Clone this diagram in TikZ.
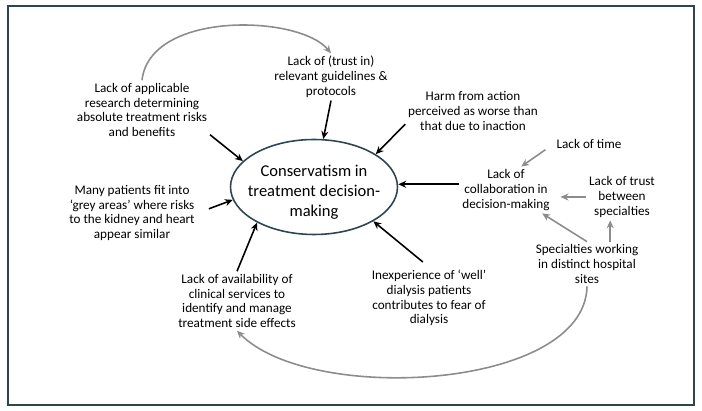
\documentclass[tikz,border=0pt]{standalone}
\usepackage{fontspec}
\setmainfont{Carlito}
\usetikzlibrary{shapes.geometric, arrows, arrows.meta, positioning}
\definecolor{frameteal}{RGB}{44,70,80}
\definecolor{linkgrey}{RGB}{140,140,140}

\begin{document}
\begin{tikzpicture}[x=0.02cm, y=-0.02cm,
    factor/.style={align=center, font=\fontsize{7.5}{8.4}\selectfont, inner sep=1.5pt},
    cause/.style={-{Stealth[length=4.5pt, width=4pt]}, line width=0.9pt, black},
    link/.style={-{Stealth[length=4.5pt, width=4pt]}, line width=0.9pt, linkgrey}]
    \useasboundingbox (0,0) rectangle (702,411);
    \draw[frameteal, line width=1.6pt] (8,6) rectangle (694,405);

    % Central theme
    \node[ellipse, draw=frameteal, line width=0.9pt, minimum width=3.34cm, minimum height=1.9cm] (centre) at (314,187) {};
    \node[align=center, font=\fontsize{9.4}{11.4}\selectfont] (theme) at (314,192) {Conservatism in\\treatment decision-\\making};

    % Factors
    \node[factor] (research) at (142,110) {Lack of applicable\\research determining\\absolute treatment risks\\and benefits};
    \node[factor] (guidelines) at (331,77) {Lack of (trust in)\\relevant guidelines \&\\protocols};
    \node[factor] (harm) at (473,111) {Harm from action\\perceived as worse than\\that due to inaction};
    \node[factor] (time) at (589,144) {Lack of time};
    \node[factor] (collab) at (506,190) {Lack of\\collaboration in\\decision-making};
    \node[factor] (trust) at (622,197) {Lack of trust\\between\\specialties};
    \node[factor] (sites) at (587,264) {Specialties working\\in distinct hospital\\sites};
    \node[factor] (many) at (132,213) {Many patients fit into\\‘grey areas’ where risks\\to the kidney and heart\\appear similar};
    \node[factor] (avail) at (237,301) {Lack of availability of\\clinical services to\\identify and manage\\treatment side effects};
    \node[factor] (inexp) at (429,298) {Inexperience of ‘well’\\dialysis patients\\contributes to fear of\\dialysis};

    % Direct causes
    \draw[cause] (research.-20) -- (centre.160);
    \draw[cause] (guidelines.south) -- (centre.79);
    \draw[cause] (harm.191) -- (centre.28);
    \draw[cause] (collab.173) -- (collab.173 -| centre.east);
    \draw[cause, shorten <=0.24cm] (many.east) -- (centre.189);
    \draw[cause] (avail.north) -- (centre.212);
    \draw[cause, shorten <=0.16cm] (inexp.north) -- (centre.-30);

    % Links between factors
    \draw[link] (research.north) .. controls (150,10) and (300,15) .. (guidelines.north);
    \draw[link, shorten <=0.2cm] (time.west) -- (collab.57);
    \draw[link, shorten >=0.16cm] (trust.west) -- (trust.west -| collab.east);
    \draw[link] (sites.north) -- (collab.-33);
    \draw[link] (sites.44) -- (sites.44 |- trust.south);
    \draw[link] (sites.south) .. controls (585,390) and (310,405) .. (avail.south);
\end{tikzpicture}
\end{document}
